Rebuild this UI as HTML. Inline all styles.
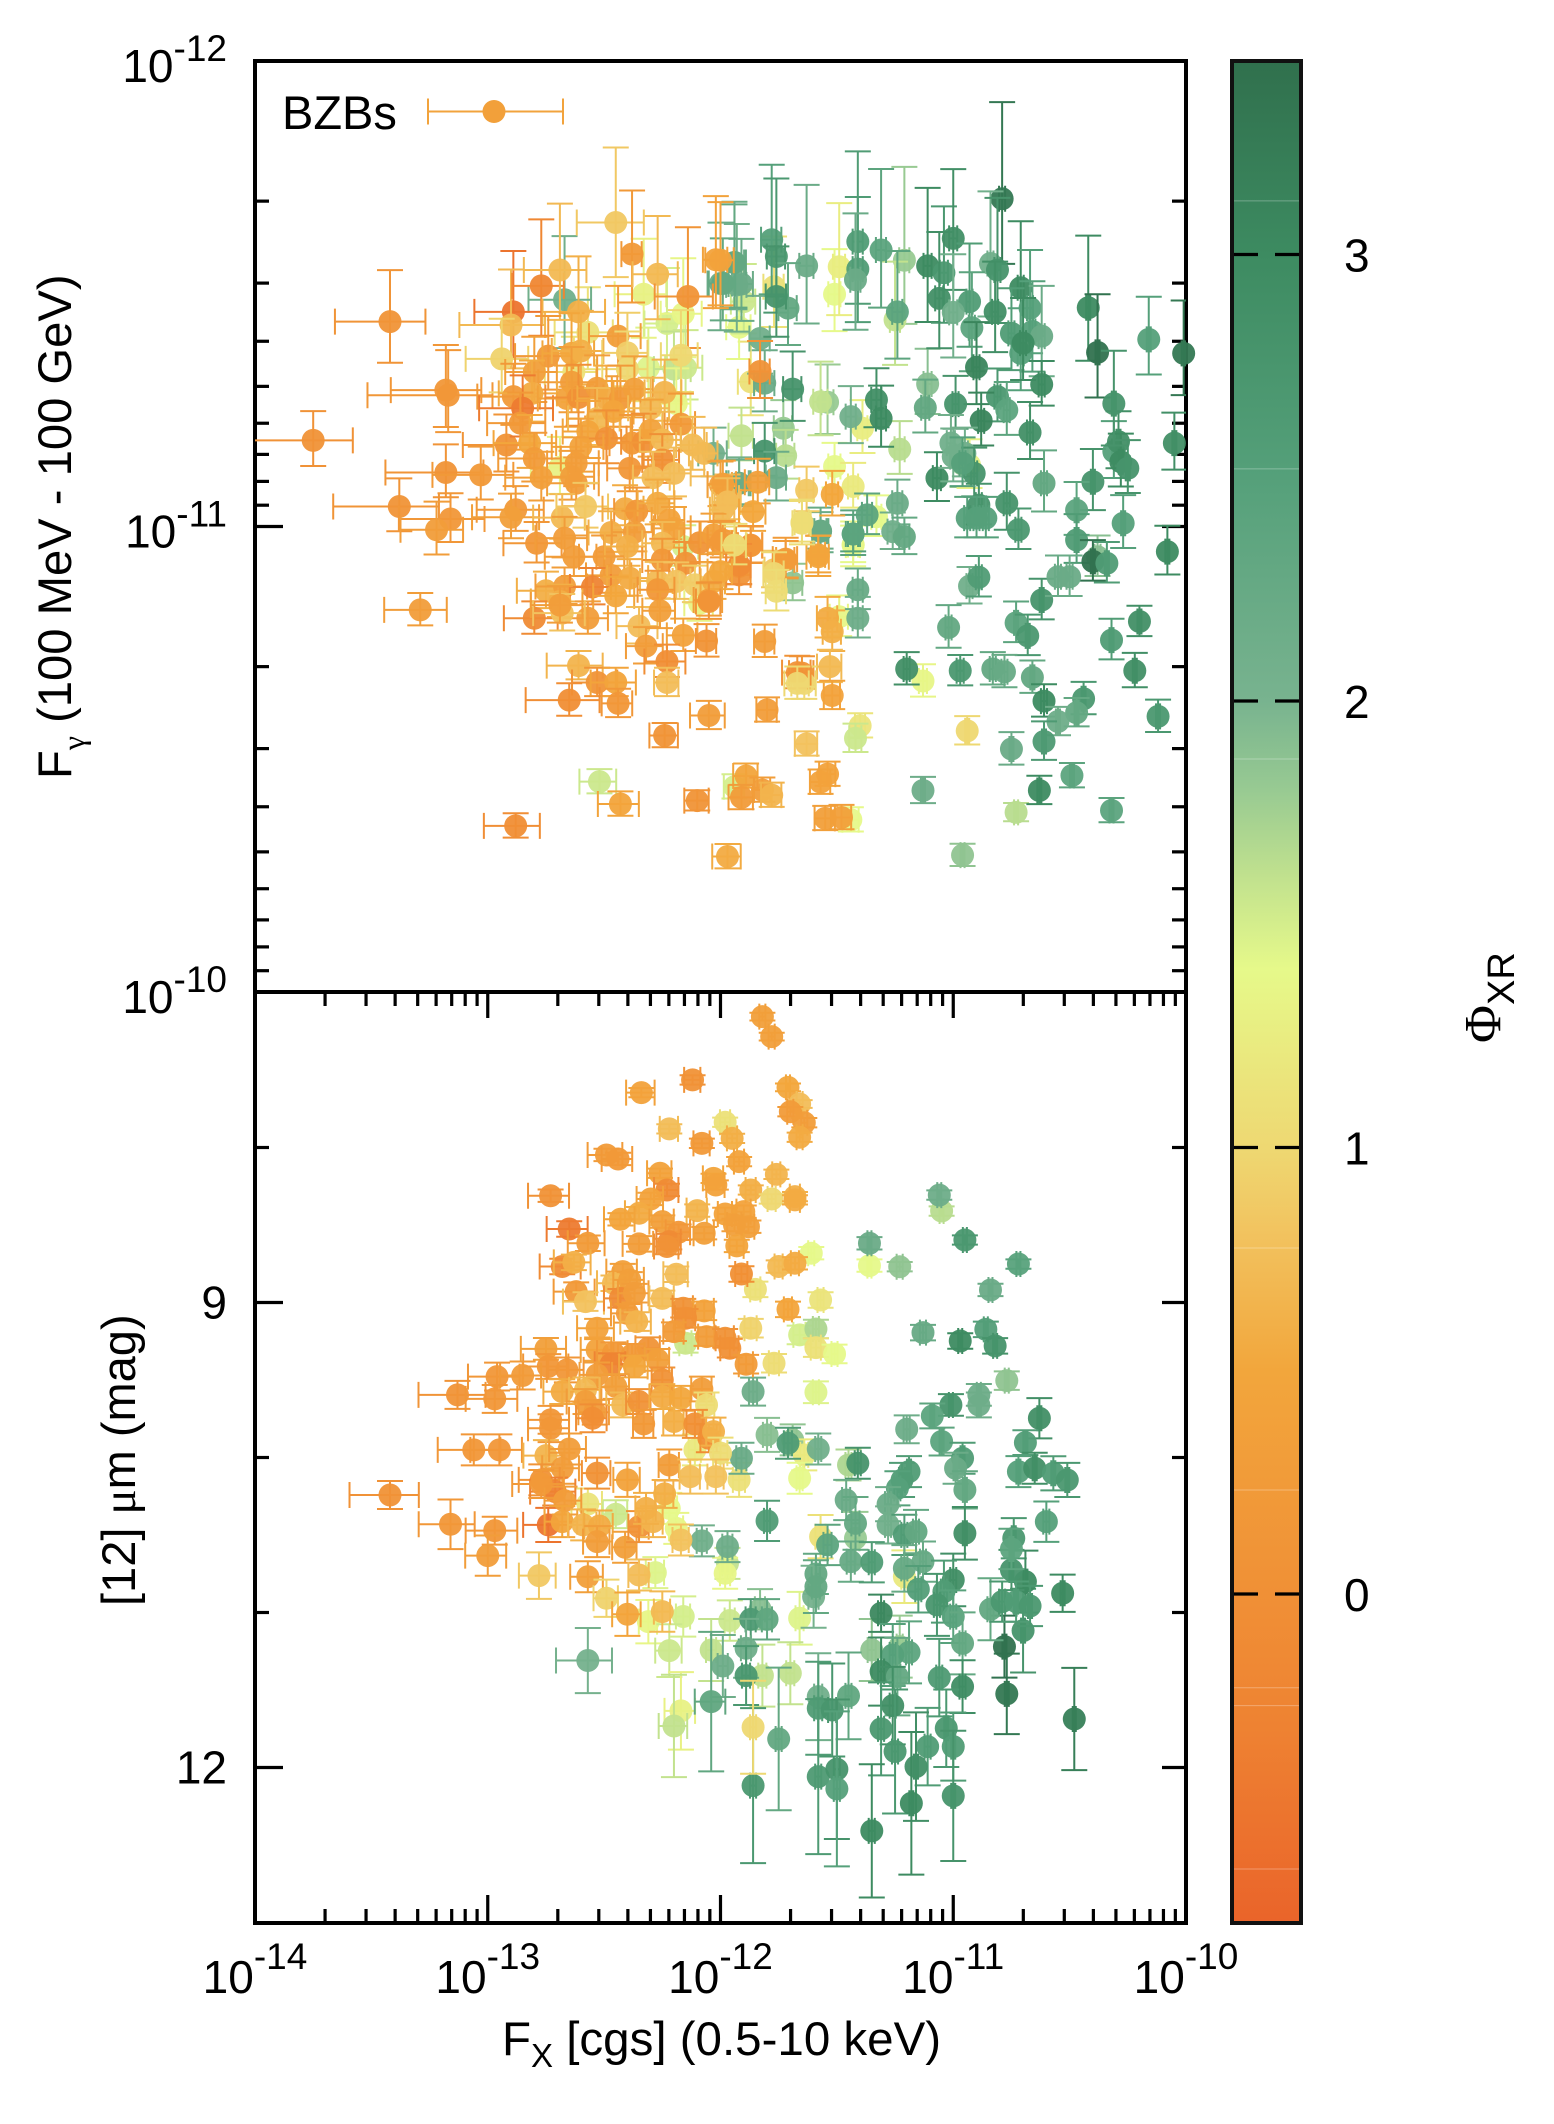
<!DOCTYPE html>
<html lang="en">
<head>
<meta charset="utf-8">
<title>BZBs: gamma-ray flux and 12 micron magnitude versus X-ray flux</title>
<style>
html,body{margin:0;padding:0;background:#fff;}
svg{display:block;}
text{font-family:"Liberation Sans",sans-serif;fill:#000;}
.sym{font-family:"Liberation Serif",serif;}
</style>
</head>
<body>
<svg id="chart" xmlns="http://www.w3.org/2000/svg" width="1554" height="2124" viewBox="0 0 1554 2124">
  <defs>
    <linearGradient id="cbGrad" x1="0" y1="1" x2="0" y2="0"></linearGradient>
    <clipPath id="clipTop"><rect x="255" y="61" width="931" height="931"/></clipPath>
    <clipPath id="clipLow"><rect x="255" y="992" width="931" height="931"/></clipPath>
  </defs>
  <rect width="1554" height="2124" fill="#fff"/>
  <g id="axes"></g>
  <g id="topMarks"></g>
  <g id="lowMarks"></g>
  <g id="colorbar"></g>
  <g>
    <text x="282" y="129" font-size="47">BZBs</text>
    <path d="M428 111.5H563M428 98.5V124.5M563 98.5V124.5" stroke="#f2a33c" stroke-width="2" fill="none"/>
    <circle cx="494" cy="111.5" r="11.5" fill="#f2a03a"/>
  </g>
  <text transform="translate(71 779) rotate(-90)" font-size="47.2">F<tspan class="sym" font-size="32" dy="13">γ</tspan><tspan dy="-13"> (100 MeV - 100 GeV)</tspan></text>
  <text transform="translate(135 1606) rotate(-90)" font-size="47">[12] <tspan class="sym">μ</tspan>m (mag)</text>
  <text x="502" y="2055" font-size="47.5">F<tspan font-size="33" dy="12">X</tspan><tspan dy="-12"> [cgs] (0.5-10 keV)</tspan></text>
  <text transform="translate(1500 1043) rotate(-90)" font-size="52"><tspan class="sym">Φ</tspan><tspan font-size="38" dy="14">XR</tspan></text>
</svg>
<script>
// ---------- Axis tick values ----------
const xDecades = [-14, -13, -12, -11, -10];
const xTickExponents = ['-14', '-13', '-12', '-11', '-10'];
const topDecades = [-12, -11, -10];
const topTickExponents = ['-12', '-11', '-10'];
const minorMultipliers = [2, 3, 4, 5, 6, 7, 8, 9];
const magMajorTicks = [9, 12];
const magMajorLabels = ['9', '12'];
const magMinorTicks = [8, 10, 11];
const colorbarTicks = [0, 1, 2, 3];
const colorbarTickLabels = ['0', '1', '2', '3'];
const colorbarBandEdges = [3.12, 2.52, 1.87, 0.775, 0.233, -0.21, -0.25, -0.616];

// ---------- Colour map ----------
const colormapPhi = [-0.737, -0.3, 0, 0.5, 0.8, 1, 1.4, 1.6, 1.8, 2, 2.5, 3, 3.434];
const colormapHex = ['#ea642a', '#ee8232', '#f09036', '#f2a63c', '#f2c25e', '#eed872', '#e6f98a', '#c2e28e', '#98ca92', '#78b38f', '#55a07a', '#3d8b61', '#30704d'];

// ---------- Upper panel: log10 Fx, log10 F_gamma, Phi_XR, relative errors ----------
const topLogFx = [
-13.75,-13.42,-13.18,-13.17,-13.18,-13.03,-13.38,-13.16,-13.22,-12.92,
-12.89,-12.90,-12.77,-12.69,-12.67,-12.45,-12.38,-12.27,-12.14,-12.33,
-12.61,-12.57,-12.44,-12.23,-12.16,-12.94,-12.74,-12.64,-12.60,-12.40,
-12.40,-12.31,-12.20,-12.15,-12.17,-12.80,-12.64,-12.63,-12.89,-12.81,
-12.85,-12.86,-12.66,-12.61,-12.53,-12.49,-12.43,-12.37,-12.24,-12.19,
-12.53,-12.46,-12.30,-12.17,-12.82,-12.57,-12.49,-12.60,-12.38,-12.33,
-12.30,-12.25,-12.12,-12.07,-12.03,-12.80,-12.62,-12.69,-12.64,-12.62,
-12.77,-12.39,-12.25,-12.20,-12.29,-12.00,-11.92,-11.97,-11.99,-12.88,
-12.90,-12.68,-12.58,-12.41,-12.36,-12.27,-12.22,-12.20,-12.79,-12.67,
-12.63,-12.47,-12.37,-12.50,-12.40,-12.25,-12.25,-12.15,-12.16,-12.09,
-12.03,-12.47,-12.39,-12.27,-12.19,-12.11,-12.03,-12.75,-12.67,-12.55,
-12.45,-12.69,-12.27,-13.29,-12.05,-12.02,-11.94,-12.00,-11.93,
-10.79,-11.78,-11.76,-11.63,-11.41,-11.31,-11.41,-11.42,-11.21,-11.11,
-11.04,-11.00,-10.84,-10.81,-10.71,-11.06,-10.93,-11.00,-10.92,-10.82,
-11.24,-11.25,-10.67,-10.75,-10.66,-10.62,-10.71,-10.70,-10.42,-10.38,
-10.16,-10.01,-10.90,-10.62,-10.81,-10.77,-10.88,-10.99,-11.11,-11.12,
-11.33,-11.31,-11.54,-11.57,-11.44,-11.39,-11.69,-11.81,-11.83,-11.87,
-11.83,-11.92,-11.71,-11.76,-11.77,-11.51,-11.49,-11.90,-11.91,-11.99,
-11.94,-12.00,-11.91,-11.73,-11.81,-11.72,-11.23,-11.51,-11.43,-11.63,
-11.52,-11.76,-11.84,-11.92,-11.99,-11.97,-11.86,-11.65,-11.57,-11.43,
-11.33,-11.24,-11.37,-11.26,-11.21,-11.07,-11.01,-10.95,-10.96,-10.93,
-11.00,-10.91,-10.96,-10.67,-10.77,-10.61,-10.40,-10.47,-10.47,-10.27,
-10.31,-10.29,-10.28,-10.25,-10.31,-10.05,-10.08,-10.72,-10.94,-10.89,
-10.86,-10.90,-10.40,-10.38,-10.34,-11.72,-11.58,-11.87,-11.94,-11.99,
-11.92,-11.77,-11.43,
-10.93,-10.89,-10.62,-10.55,-10.50,-11.41,-11.41,-11.54,-11.49,-11.52,
-11.02,-10.73,-10.68,-10.32,-10.20,-10.22,-11.53,-11.65,-11.64,-11.52,
-11.20,-11.13,-10.97,-10.83,-10.78,-10.66,-10.61,-10.44,-10.47,-10.55,
-10.61,-10.12,-11.40,-11.42,-10.94,-10.75,-11.63,-11.54,-11.57,-10.49,
-10.63,-11.13,-10.73,-10.32,-11.55,-11.48,-11.44,-10.96,
-11.87,-11.72,-11.77,-11.76,-11.69,-11.58,-11.57,-11.43,-11.43,-11.65,
-11.92,-11.92,-11.81,-11.67,-11.67,-12.57,-12.80,-12.68,-12.35,-12.32,
-12.16,-12.06,-12.26,-12.61,-12.53,-12.45,-12.23,-12.23,-12.65,-12.44,
-12.05,-12.24,-11.80,-11.89,-12.52,-12.43,-12.10,-11.91,-11.82,-11.78,
-11.94,-12.88,-11.97,-12.00,-11.94,-12.00,-12.05,-12.09,-12.69
];
const topLogFgamma = [
-11.185,-11.440,-11.293,-11.282,-11.116,-11.111,-11.043,-11.016,-10.993,-11.175,
-11.461,-11.433,-11.517,-11.551,-11.487,-11.653,-11.585,-11.542,-11.494,-11.499,
-11.461,-11.417,-11.409,-11.436,-11.457,-11.360,-11.366,-11.372,-11.377,-11.373,
-11.338,-11.341,-11.338,-11.341,-11.368,-11.332,-11.310,-11.332,-11.279,-11.286,
-11.254,-11.222,-11.275,-11.277,-11.297,-11.275,-11.275,-11.295,-11.288,-11.264,
-11.232,-11.247,-11.254,-11.220,-11.179,-11.204,-11.189,-11.171,-11.179,-11.182,
-11.207,-11.186,-11.175,-11.157,-11.157,-11.146,-11.136,-11.127,-11.107,-11.093,
-11.105,-11.125,-11.143,-11.114,-11.105,-11.089,-11.093,-11.061,-11.036,-11.036,
-11.020,-11.019,-11.043,-11.038,-11.033,-11.050,-11.014,-10.996,-10.964,-10.975,
-10.935,-10.987,-10.988,-10.935,-10.957,-10.964,-10.928,-10.921,-10.957,-10.965,
-10.982,-10.895,-10.889,-10.883,-10.882,-10.875,-10.882,-10.862,-10.871,-10.870,
-10.851,-10.839,-10.864,-10.821,-10.842,-11.573,-11.567,-11.522,-11.519,
-11.704,-11.616,-11.580,-11.560,-11.612,-11.594,-11.553,-11.530,-11.572,-11.560,
-11.545,-11.619,-11.565,-11.551,-11.513,-11.490,-11.483,-11.460,-11.427,-11.461,
-11.461,-11.444,-11.469,-11.415,-11.419,-11.409,-11.372,-11.394,-11.470,-11.374,
-11.402,-11.372,-11.342,-11.305,-11.279,-11.250,-11.227,-11.263,-11.306,-11.255,
-11.272,-11.232,-11.267,-11.268,-11.236,-11.211,-11.295,-11.308,-11.333,-11.311,
-11.404,-11.428,-11.469,-11.494,-11.515,-11.499,-11.558,-11.483,-11.521,-11.522,
-11.567,-11.572,-11.195,-11.211,-11.162,-11.152,-11.166,-11.129,-11.086,-11.078,
-11.069,-11.105,-11.095,-11.093,-11.091,-11.053,-11.032,-11.009,-10.990,-10.984,
-11.021,-11.050,-11.025,-10.989,-10.978,-11.104,-11.179,-11.157,-11.134,-11.132,
-11.150,-11.114,-11.136,-11.202,-11.050,-11.093,-11.096,-11.035,-10.971,-11.007,
-11.161,-11.182,-11.139,-11.125,-11.264,-11.179,-10.946,-10.993,-11.018,-11.046,
-11.018,-11.018,-10.925,-10.935,-10.921,-10.928,-10.939,-10.959,-10.959,-10.971,
-10.914,-10.907,-10.961,
-10.872,-10.891,-10.842,-10.892,-10.892,-10.864,-10.803,-10.803,-10.806,-10.774,
-10.783,-10.793,-10.765,-10.756,-10.796,-10.690,-10.699,-10.685,-10.663,-10.637,
-10.694,-10.668,-10.690,-10.694,-10.688,-10.676,-10.625,-10.630,-10.600,-10.581,
-10.538,-10.592,-10.572,-10.545,-10.561,-10.522,-10.533,-10.468,-10.451,-10.465,
-10.433,-10.433,-10.386,-10.390,-10.373,-10.375,-10.370,-10.294,
-10.960,-10.930,-10.899,-10.861,-10.879,-10.935,-10.990,-10.984,-10.960,-11.007,
-10.896,-10.917,-10.753,-10.686,-10.663,-10.803,-10.803,-10.814,-10.786,-10.743,
-10.766,-10.754,-10.819,-10.701,-10.665,-10.665,-10.710,-10.665,-10.627,-10.620,
-10.594,-10.551,-10.606,-10.464,-10.452,-10.404,-10.411,-10.418,-10.434,-10.423,
-10.441,-10.357,-10.291,-10.964,-10.960,-10.903,-10.839,-10.835,-10.831
];
const topPhi = [
.05,.1,.15,.15,.1,.2,.1,.15,.3,.1,
-.5,.7,-.2,.7,2.1,.85,.2,.7,.1,1.3,
.6,1.1,.3,1.5,1.35,.95,.2,.5,.6,.9,
1,1.45,1.6,1.55,1,.35,.3,1.1,.2,.55,
-.4,.2,.4,0,.3,.55,.2,.35,.65,1.35,
.7,.45,.7,.2,.5,.45,0,.4,.2,0,
.4,.7,.7,.7,2.1,.25,.3,1.3,.3,.3,
.35,.15,0,.75,.75,.35,2.1,.75,.7,.2,
.35,.7,.85,.55,.15,.55,.4,.4,.15,.3,
.3,.6,.3,.25,.6,.7,.15,.05,1.5,.1,
.35,.3,.55,.7,.8,.9,.55,.6,.3,-.25,
.5,.6,.15,.3,.3,.4,2.2,2.2,2.1,
3.3,2.5,2.7,2.2,2.6,2.4,2.6,2.2,1.8,3,
2.7,2.9,2.1,2.8,3,2.9,2.6,2.1,2.4,2.9,
2.4,1.6,2.5,2.6,2.5,2.2,2.5,3,3,3.4,
2.5,3.3,3.1,3,2.7,2.4,3.1,2.8,1.9,2.3,
2.9,3,1.8,1.6,2.1,1.25,2.8,2.2,.05,1.1,
2.1,1.4,2.3,2.8,1.1,1.4,1.25,1.55,2.2,2.3,
2.3,.4,1.6,1.8,2.8,1.65,1.65,1.4,1.2,.85,
.5,2.2,.35,2.2,.35,.75,.5,1.05,2.2,2.5,
1.4,2.2,2.4,2.1,2.3,3,2.1,2.1,1.8,1.3,
2.1,2.8,2.5,2.9,2.8,2.3,2.8,2.4,2.6,2.5,
2.5,2.9,3,2.8,2.8,2.9,3,2.7,2.5,2.8,
2.5,2.5,3.4,1.9,2.6,.3,.45,.2,1,.2,
-.1,.85,1.4,
2.1,2.6,2.8,2.2,2.2,2.25,2.15,.55,1.35,.6,
2.3,2.4,2.7,2.6,2.9,2.9,.7,.1,1,.4,
2.9,1.35,2.7,2.3,2.25,2.3,3,2.7,2.3,2.15,
2.65,2.7,1.15,1.55,1,2.2,.8,.4,.4,2.4,
3,2.15,1.65,2.4,.35,.35,1.4,1.85,
.15,.25,1,1.05,1.85,.45,2.25,2.4,1.35,1.05,
.1,-.1,.3,.05,1,.3,-.1,.8,.75,.3,
.4,.1,.35,.65,.1,.45,-.05,.75,-.05,.15,
.3,.1,.3,.45,1.55,.45,.1,.25,.3,.65,
1.5,-.05,.55,.2,1.05,.5,.1,1.3,.3
];
const topFxErr = [
.48,.42,.42,.55,.45,.38,.48,.40,.30,.35,
.32,.40,.25,.30,.30,.32,.10,.22,.28,.25,
.30,.28,.25,.20,.20,.30,.28,.25,.25,.22,
.22,.18,.18,.18,.18,.25,.28,.25,.30,.28,
.35,.28,.25,.28,.22,.25,.22,.20,.18,.15,
.25,.22,.20,.15,.30,.22,.22,.25,.20,.20,
.18,.20,.15,.14,.14,.30,.25,.25,.25,.25,
.30,.20,.18,.18,.18,.12,.10,.12,.12,.32,
.32,.25,.25,.20,.20,.18,.16,.18,.28,.25,
.25,.20,.20,.22,.20,.18,.18,.15,.16,.14,
.12,.22,.20,.16,.15,.14,.12,.25,.25,.20,
.20,.25,.18,.30,.14,.12,.10,.12,.10,
.03,.10,.09,.07,.05,.05,.05,.05,.05,.04,
.04,.04,.03,.03,.03,.04,.03,.04,.03,.03,
.05,.05,.03,.03,.03,.03,.03,.03,.02,.02,
.02,.02,.03,.03,.03,.03,.03,.03,.04,.04,
.05,.05,.06,.07,.05,.05,.09,.10,.10,.12,
.10,.12,.09,.10,.10,.06,.06,.12,.12,.13,
.12,.14,.12,.09,.10,.09,.05,.06,.05,.07,
.06,.10,.12,.12,.14,.14,.13,.07,.06,.05,
.05,.05,.05,.05,.05,.04,.04,.03,.03,.03,
.03,.03,.03,.03,.03,.03,.02,.02,.02,.02,
.02,.02,.02,.02,.02,.02,.02,.03,.03,.03,
.03,.03,.02,.03,.02,.09,.07,.12,.13,.14,
.12,.09,.05,
.03,.03,.02,.03,.03,.05,.05,.10,.09,.09,
.03,.02,.02,.02,.02,.02,.12,.12,.12,.08,
.03,.04,.035,.03,.03,.02,.03,.02,.02,.02,
.02,.02,.05,.06,.02,.02,.11,.08,.10,.02,
.02,.02,.02,.02,.10,.10,.08,.02,
.12,.12,.10,.10,.10,.11,.08,.07,.07,.09,
.12,.12,.10,.14,.12,.22,.26,.25,.20,.18,
.15,.10,.16,.27,.22,.22,.20,.12,.35,.15,
.17,.14,.10,.12,.18,.20,.12,.12,.08,.10,
.10,.27,.14,.12,.12,.12,.12,.14,.25
];
const topFgammaErr = [
.135,.225,.20,.20,.13,.13,.13,.12,.13,.14,
.26,.24,.28,.28,.27,.31,.27,.25,.29,.24,
.24,.20,.22,.24,.24,.18,.18,.18,.18,.18,
.17,.18,.17,.17,.20,.16,.16,.16,.15,.15,
.15,.14,.15,.15,.15,.15,.15,.15,.15,.16,
.14,.14,.14,.14,.13,.14,.13,.13,.13,.13,
.14,.13,.13,.12,.12,.12,.12,.14,.12,.12,
.12,.12,.12,.12,.12,.11,.12,.11,.11,.11,
.11,.11,.11,.11,.11,.11,.10,.10,.10,.10,
.10,.10,.10,.10,.10,.10,.10,.10,.10,.10,
.10,.09,.09,.09,.09,.09,.09,.09,.09,.09,
.09,.08,.09,.08,.08,.27,.26,.26,.26,
.38,.31,.32,.33,.36,.33,.30,.28,.37,.32,
.28,.29,.30,.30,.28,.28,.25,.25,.24,.22,
.26,.25,.25,.20,.22,.22,.20,.20,.30,.25,
.19,.23,.20,.11,.13,.13,.13,.13,.16,.13,
.145,.15,.17,.18,.14,.13,.17,.15,.14,.18,
.19,.17,.20,.22,.22,.20,.27,.17,.20,.20,
.25,.25,.13,.13,.13,.12,.13,.11,.11,.11,
.11,.12,.11,.11,.11,.11,.10,.10,.09,.09,
.10,.11,.10,.09,.09,.12,.13,.12,.12,.12,
.13,.12,.12,.14,.14,.15,.15,.13,.12,.13,
.14,.14,.13,.13,.23,.14,.12,.10,.10,.10,
.10,.10,.10,.10,.10,.09,.09,.09,.09,.09,
.09,.09,.09,
.09,.10,.10,.10,.10,.10,.10,.10,.10,.10,
.105,.10,.10,.10,.075,.085,.08,.08,.08,.07,
.08,.08,.075,.08,.08,.08,.08,.08,.07,.07,
.095,.08,.06,.07,.07,.08,.06,.06,.06,.06,
.07,.065,.045,.06,.06,.06,.06,.055,
.09,.10,.10,.10,.09,.10,.11,.11,.11,.11,
.10,.10,.08,.08,.08,.08,.08,.09,.09,.09,
.08,.08,.09,.07,.07,.07,.08,.07,.08,.07,
.07,.06,.06,.06,.06,.06,.05,.06,.06,.06,
.06,.06,.06,.10,.10,.09,.09,.09,.09
];

// ---------- Lower panel: log10 Fx, [12] micron magnitude, Phi_XR, errors ----------
const lowLogFx = [
-11.82,-11.78,-12.12,-12.34,-11.71,-11.66,-11.70,-11.64,-11.66,-11.98,
-11.95,-12.22,-12.08,-11.92,-12.49,-12.44,-12.73,-12.26,-12.23,-12.30,
-12.03,-12.02,-11.76,-11.87,-11.78,-11.68,-11.68,-12.35,-12.43,-12.25,
-12.10,-11.98,-11.90,-11.94,-11.88,-11.93,-12.65,-12.57,-12.35,-12.07,
-12.18,-12.22,-12.23,-11.61,-11.36,-11.36,-12.68,-12.63,-12.42,-12.46,
-12.39,-12.19,-11.91,-11.75,-11.68,-11.85,-12.62,-12.58,-12.43,-12.37,
-12.25,-11.57,-12.16,-12.07,-12.15,-11.71,-12.40,-12.36,-12.53,-11.87,
-11.66,-11.59,-11.59,-11.51,-12.15,-12.20,-12.06,-11.98,-11.96,-11.89,
-11.77,-11.86,-11.59,-12.75,-12.53,-12.31,-12.38,-12.27,-12.46,-12.47,
-12.74,-12.66,-12.37,-12.53,-12.45,-12.25,-12.96,-12.85,-13.13,-12.97,
-12.68,-12.58,-12.58,-12.54,-12.42,-12.35,-12.25,-12.17,-12.08,-12.06,
-12.73,-12.73,-12.55,-12.33,-12.20,-12.11,-12.05,-12.03,-13.06,-12.95,
-12.75,-12.65,-12.68,-12.53,-12.22,-12.11,-12.00,-11.91,-11.80,-11.71,
-11.69,-11.64,-11.58,-11.45,-11.41,-11.66,-12.13,-12.02,-11.92,-12.77,
-12.40,
-13.42,-13.16,-12.97,-13.00,-12.74,-12.71,-12.77,-12.67,-12.68,-12.59,
-12.52,-12.57,-12.45,-12.53,-12.41,-12.35,-12.29,-12.32,-12.24,-12.19,
-12.17,-12.22,-12.08,-11.97,-11.97,-11.98,-11.80,-12.78,-12.57,-12.35,
-12.28,-12.49,-12.40,-12.31,-12.25,-12.16,-11.96,-11.87,-11.83,-11.80,
-11.66,-12.22,-12.04,-11.89,-11.99,-11.89,-11.82,-11.70,-12.57,-12.04,
-12.17,-12.20,-11.86,-11.75,-11.86,
-11.06,-11.05,-10.95,-10.72,-11.23,-10.84,-11.13,-10.97,-10.86,-10.82,
-10.77,-10.89,-10.89,-11.01,-11.09,-11.20,-11.05,-10.96,-10.99,-11.19,
-11.22,-11.24,-10.95,-11.28,-11.28,-11.21,-11.16,-10.63,-10.69,-10.72,
-10.65,-10.57,-10.51,-10.60,-10.74,-10.95,-11.46,-11.42,-11.57,-11.42,
-11.59,-11.60,-11.59,-11.44,-11.35,-11.54,-11.21,-11.21,-11.13,-11.15,
-11.00,-11.04,-11.07,-11.00,-10.96,-11.31,-11.35,-11.23,-11.19,-11.26,
-11.31,-11.24,-11.06,-10.96,-11.58,-11.58,-11.52,-11.45,-11.26,-11.31,
-11.25,-11.03,-11.11,-11.00,-11.16,-11.58,-11.50,-11.50,-11.00,-11.18,
-11.35,-10.77,-10.78,-10.48,-10.53,-10.70,-10.69,-10.75,-10.84,-10.79,
-10.73,-10.67,-10.75
];
const lowMag = [
7.156,7.285,7.564,7.646,7.612,7.719,7.769,7.840,7.934,7.837,
7.941,7.880,7.973,8.091,8.048,8.074,8.311,8.166,8.274,8.332,
8.199,8.242,8.173,8.274,8.332,8.317,8.338,8.424,8.463,8.478,
8.407,8.429,8.414,8.500,8.511,8.635,8.526,8.618,8.622,8.553,
8.547,8.607,8.639,8.682,8.618,8.762,8.768,8.741,8.801,8.876,
8.854,8.818,8.816,8.768,8.747,8.915,8.930,8.994,8.973,8.940,
8.973,8.984,9.037,9.054,9.102,9.044,9.070,9.123,9.166,9.166,
9.209,9.171,9.291,9.332,9.263,9.188,9.220,9.231,9.295,9.398,
9.392,9.575,9.579,9.299,9.306,9.295,9.338,9.370,9.327,9.398,
9.413,9.435,9.413,9.467,9.542,9.499,9.478,9.471,9.596,9.622,
9.575,9.564,9.639,9.708,9.661,9.639,9.607,9.618,9.558,9.661,
9.757,9.811,9.747,9.783,9.768,9.783,9.876,9.833,9.951,9.951,
9.988,9.945,10.069,10.101,10.048,9.951,9.972,10.005,9.854,9.908,
9.886,9.983,9.945,10.048,10.037,10.134,10.123,10.123,10.144,10.144,
10.144,
10.242,10.431,10.472,10.633,10.435,10.220,10.171,10.278,10.414,10.435,
10.442,10.300,10.366,10.543,10.579,10.446,10.414,10.328,10.235,10.457,
10.532,10.328,10.538,10.575,10.683,10.747,10.409,10.762,10.769,10.758,
10.743,10.908,11.011,11.059,10.994,11.026,11.052,11.044,10.979,11.044,
11.037,11.246,11.242,11.231,11.345,11.407,11.407,11.392,11.310,11.575,
11.635,11.732,11.740,11.816,12.117,
8.307,8.410,8.597,8.752,8.769,8.919,9.194,9.248,9.173,9.280,
9.504,9.596,9.661,9.661,9.732,9.818,9.897,10.005,10.069,10.091,
10.145,10.199,10.209,10.301,10.435,10.499,10.478,9.747,9.904,10.091,
10.069,10.102,10.145,10.414,10.521,10.489,10.274,10.425,10.511,10.521,
10.751,10.898,10.833,10.672,10.676,10.564,10.715,10.769,10.672,10.850,
10.790,10.865,10.951,11.027,11.199,11.005,11.242,11.220,11.257,11.274,
11.381,11.414,11.420,11.478,11.543,11.618,11.629,11.538,11.601,11.751,
11.897,11.747,11.865,11.865,11.994,12.059,12.011,12.138,12.183,12.231,
12.409,11.525,11.220,11.687,10.876,11.117,10.801,10.726,10.979,10.930,
10.930,10.958,10.590
];
const lowPhi = [
.35,.35,.05,.4,.5,.75,.25,.3,.55,1.1,
.6,.75,.2,.4,.25,.2,.05,.4,-.1,.4,
.45,.4,.65,.6,1,.6,.55,.55,.45,.35,
.65,.4,.4,.35,.35,.45,-.4,.25,.3,.35,
.15,-.1,.05,1.4,2.2,1.4,-.1,.6,.35,.7,
.35,.75,0,.7,.55,1.1,.2,.8,-.1,.3,
.75,1.15,.05,.4,0,.45,.25,.65,.4,.95,
1.5,1.7,1.1,1.4,1.55,.25,.3,.05,0,.25,
1.05,2.15,1.45,.35,.4,.1,.2,.35,.2,-.25,
.15,.15,.5,.3,.35,.05,.15,.25,.1,.15,
.55,.7,.3,.25,.7,.05,.55,.5,.3,1.05,
.15,.15,-.05,.2,.6,0,-.05,.6,.15,.15,
.65,.3,.3,.05,.3,1.2,1.05,2.2,1.9,2.6,
1.85,1.2,2.1,1.7,2.8,1.4,.75,.8,1.1,.1,
.4,
.05,.15,.15,.3,-.5,-.3,.2,.3,.45,.65,
.55,1.15,1.55,.3,.35,.05,.65,.6,.6,1.35,
.8,1.4,2.1,2.15,1.6,1.35,2.6,.85,.35,.75,
1.45,.95,.45,1.35,.7,1.5,1.55,2.65,1.9,2.35,
1.45,1.55,1.6,2.15,2.15,2.7,1.6,1.6,2.05,2.35,
1.3,1.6,1,2.3,2.7,
2.15,1.65,2.7,2.45,1.85,2.2,2.25,3,2.55,2.8,
1.85,2.15,2.15,2.8,2.4,2.15,2.4,2.6,2.2,2.6,
2.6,2.5,2.3,2.2,2.1,2.6,2.3,2.9,2.55,2.5,
2.9,2.6,2.7,2.5,2.7,2.9,2.2,2.3,1.1,1.8,
2.3,2.05,2.3,2.25,2.6,2.4,2.25,1.2,2.25,2.55,
2.9,2.6,2.75,2.45,2.3,3.05,1.85,1.8,2.4,2.5,
3,2.3,2.65,2.95,2.1,2.6,2.75,2.35,2.9,2.7,
2.7,2.7,2.6,2.6,2.9,2.65,2.8,2.5,2.8,3,
3,3.3,3.4,3.2,3,2.8,3,2.8,2.3,2.7,
2.6,2.7,2.4
];
const lowFxErr = [
.03,.03,.08,.14,.02,.03,.03,.03,.03,.05,
.05,.09,.08,.05,.17,.15,.20,.12,.12,.13,
.10,.09,.04,.05,.04,.05,.05,.13,.15,.12,
.10,.07,.07,.07,.06,.07,.20,.18,.15,.10,
.12,.12,.12,.03,.02,.02,.20,.18,.15,.15,
.15,.12,.06,.04,.04,.05,.20,.20,.15,.15,
.12,.03,.10,.10,.10,.04,.15,.15,.18,.06,
.06,.03,.05,.03,.06,.10,.08,.09,.09,.07,
.05,.04,.03,.22,.15,.12,.13,.12,.15,.15,
.22,.18,.14,.16,.14,.10,.25,.20,.32,.25,
.17,.15,.17,.15,.15,.12,.12,.10,.10,.08,
.20,.20,.15,.10,.10,.08,.08,.07,.30,.25,
.20,.18,.18,.14,.10,.06,.07,.05,.04,.04,
.04,.04,.03,.03,.03,.03,.10,.08,.06,.20,
.13,
.33,.27,.25,.20,.22,.22,.25,.18,.16,.14,
.14,.15,.12,.13,.12,.10,.10,.10,.09,.07,
.08,.08,.05,.05,.05,.05,.03,.18,.16,.10,
.09,.12,.14,.09,.08,.07,.05,.05,.05,.05,
.04,.13,.05,.05,.05,.04,.04,.04,.27,.15,
.15,.14,.03,.03,.03,
.02,.02,.02,.02,.03,.02,.03,.02,.02,.02,
.02,.02,.02,.02,.02,.03,.02,.02,.02,.02,
.03,.03,.02,.03,.03,.03,.03,.02,.02,.02,
.02,.02,.02,.03,.02,.02,.04,.04,.05,.04,
.04,.05,.04,.04,.03,.04,.03,.03,.03,.03,
.03,.03,.03,.03,.03,.03,.04,.03,.03,.03,
.03,.03,.03,.03,.04,.04,.04,.03,.03,.03,
.03,.02,.03,.02,.02,.03,.03,.03,.02,.02,
.03,.02,.02,.015,.02,.02,.02,.02,.03,.03,
.02,.02,.02
];
const lowMagErr = [
.025,.025,.03,.03,.025,.025,.03,.03,.03,.03,
.03,.03,.03,.03,.04,.04,.04,.03,.04,.04,
.03,.03,.03,.03,.03,.03,.03,.04,.04,.04,
.04,.04,.04,.04,.04,.04,.05,.05,.05,.04,
.05,.05,.05,.04,.04,.04,.05,.05,.05,.05,
.05,.05,.05,.04,.04,.05,.06,.06,.06,.06,
.05,.05,.06,.06,.06,.05,.06,.06,.06,.06,
.06,.06,.06,.06,.06,.06,.06,.06,.06,.06,
.06,.09,.07,.07,.07,.07,.07,.07,.07,.07,
.08,.08,.07,.08,.08,.08,.09,.09,.09,.09,
.08,.08,.08,.08,.08,.08,.08,.08,.08,.08,
.09,.09,.09,.09,.09,.09,.09,.09,.10,.10,
.10,.10,.10,.10,.10,.10,.10,.10,.11,.10,
.10,.10,.10,.10,.10,.10,.11,.11,.11,.10,
.11,
.09,.16,.09,.13,.11,.09,.09,.09,.10,.10,
.10,.10,.09,.10,.10,.10,.10,.10,.09,.10,
.10,.10,.10,.10,.10,.10,.13,.15,.10,.10,
.10,.12,.14,.14,.13,.13,.13,.13,.13,.13,
.17,.17,.20,.19,.20,.19,.20,.20,.21,.45,
.25,.33,.30,.46,.50,
.03,.03,.03,.03,.03,.04,.05,.05,.05,.05,
.06,.07,.08,.07,.08,.09,.09,.10,.10,.10,
.11,.11,.12,.11,.12,.13,.14,.13,.08,.10,
.10,.11,.11,.13,.13,.17,.13,.17,.14,.17,
.13,.20,.17,.13,.13,.13,.15,.17,.13,.15,
.17,.20,.20,.17,.20,.12,.20,.20,.20,.20,
.22,.25,.25,.17,.28,.30,.30,.28,.25,.30,
.40,.25,.25,.22,.35,.50,.45,.50,.42,.46,
.43,.26,.20,.33,.12,.27,.20,.13,.20,.13,
.13,.13,.13
];

// ---------- Axis functions ----------
function xScale(logFx) { return 255 + (logFx + 14) * 232.75; }
function yTopScale(logF) { return 61 + (logF + 12) * 465.5; }
function yLowScale(mag) { return 992.5 + (mag - 7) * 155; }
function yBarScale(phi) { return 1594 - phi * 446.5; }

const SVG_NS = 'http://www.w3.org/2000/svg';
function make(tag, attrs, parent) {
  const el = document.createElementNS(SVG_NS, tag);
  for (const key in attrs) el.setAttribute(key, attrs[key]);
  parent.appendChild(el);
  return el;
}

function hexToRgb(hex) {
  return [parseInt(hex.slice(1, 3), 16), parseInt(hex.slice(3, 5), 16), parseInt(hex.slice(5, 7), 16)];
}
function phiColor(phi) {
  const n = colormapPhi.length;
  if (phi <= colormapPhi[0]) return colormapHex[0];
  if (phi >= colormapPhi[n - 1]) return colormapHex[n - 1];
  for (let i = 1; i < n; i++) {
    if (phi <= colormapPhi[i]) {
      const t = (phi - colormapPhi[i - 1]) / (colormapPhi[i] - colormapPhi[i - 1]);
      const a = hexToRgb(colormapHex[i - 1]);
      const b = hexToRgb(colormapHex[i]);
      return 'rgb(' + a.map(function (v, k) { return Math.round(v + (b[k] - v) * t); }).join(',') + ')';
    }
  }
  return colormapHex[n - 1];
}

// Paint pale mid-range points first, then greens, then the warm points on top.
function paintRank(phi) {
  if (phi >= 1.1 && phi < 2) return 0;
  if (phi >= 2) return 1;
  return 2;
}
function paintOrder(phiValues) {
  const order = phiValues.map(function (_, i) { return i; });
  order.sort(function (a, b) {
    return (paintRank(phiValues[a]) - paintRank(phiValues[b])) || (a - b);
  });
  return order;
}

// ---------- Axes ----------
const axes = document.getElementById('axes');
const LEFT = 255, RIGHT = 1186, TOP = 61, MID = 992, BOTTOM = 1923;

function hTick(x, y, len, name) {
  const t = make('line', { x1: x, x2: x + len, y1: y, y2: y, stroke: '#000', 'stroke-width': 3.2 }, axes);
  
  
}
function vTick(x, y, len, name) {
  const t = make('line', { x1: x, x2: x, y1: y, y2: y + len, stroke: '#000', 'stroke-width': 3.2 }, axes);
  
  
}
function powerLabel(x, y, anchor, exponent, name, raise) {
  const t = make('text', { x: x, y: y, 'text-anchor': anchor, 'font-size': 46 }, axes);
  
  
  t.appendChild(document.createTextNode('10'));
  const s = make('tspan', { 'font-size': 37, dy: -raise }, t);
  s.textContent = exponent;
}

xDecades.forEach(function (d, i) {
  const px = xScale(d);
  vTick(px, MID, 26, 'x-major-tick-middle');
  vTick(px, BOTTOM - 28, 28, 'x-major-tick-bottom');
  powerLabel(px, 1993, 'middle', xTickExponents[i], 'x-tick-label', 24);
  if (i < xDecades.length - 1) {
    minorMultipliers.forEach(function (m) {
      const mx = xScale(d + Math.log10(m));
      vTick(mx, MID, 14, 'x-minor-tick-middle');
      vTick(mx, BOTTOM - 14, 14, 'x-minor-tick-bottom');
    });
  }
});

topDecades.forEach(function (d, i) {
  const py = yTopScale(d);
  if (i === 1) {
    hTick(LEFT, py, 28, 'y-top-major-tick-left');
    hTick(RIGHT - 24, py, 24, 'y-top-major-tick-right');
  }
  powerLabel(227, py + 21, 'end', topTickExponents[i], 'y-top-tick-label', 21);
  if (i < topDecades.length - 1) {
    minorMultipliers.forEach(function (m) {
      const my = yTopScale(d + Math.log10(m));
      hTick(LEFT, my, 14, 'y-top-minor-tick-left');
      hTick(RIGHT - 14, my, 14, 'y-top-minor-tick-right');
    });
  }
});

magMajorTicks.forEach(function (m, i) {
  const py = yLowScale(m);
  hTick(LEFT, py, 28, 'y-bottom-major-tick-left');
  hTick(RIGHT - 24, py, 24, 'y-bottom-major-tick-right');
  const t = make('text', { x: 227, y: py + 16, 'text-anchor': 'end', 'font-size': 46 }, axes);
  
  
  t.textContent = magMajorLabels[i];
});
magMinorTicks.forEach(function (m) {
  const py = yLowScale(m);
  hTick(LEFT, py, 14, 'y-bottom-minor-tick-left');
  hTick(RIGHT - 14, py, 14, 'y-bottom-minor-tick-right');
});

const frame = make('path', {
  d: 'M' + LEFT + ' ' + TOP + 'H' + RIGHT + 'V' + BOTTOM + 'H' + LEFT + 'ZM' + LEFT + ' ' + MID + 'H' + RIGHT,
  fill: 'none', stroke: '#000', 'stroke-width': 4
}, axes);



// ---------- Points ----------
function drawPoint(layer, px, py, xLo, xHi, yLo, yHi, phi, clipId) {
  const color = phiColor(phi);
  const group = make('g', {}, layer);
  
  
  const cap = 13;
  const d = 'M' + xLo + ' ' + py + 'H' + xHi +
    'M' + xLo + ' ' + (py - cap) + 'V' + (py + cap) +
    'M' + xHi + ' ' + (py - cap) + 'V' + (py + cap) +
    'M' + px + ' ' + yLo + 'V' + yHi +
    'M' + (px - cap) + ' ' + yLo + 'H' + (px + cap) +
    'M' + (px - cap) + ' ' + yHi + 'H' + (px + cap);
  const bars = make('path', { d: d, fill: 'none', stroke: color, 'stroke-width': 2, 'clip-path': 'url(#' + clipId + ')' }, group);
  
  
  const dot = make('circle', { cx: px, cy: py, r: 11.5, fill: color, 'fill-opacity': 0.95 }, group);
  
  
}

const topLayer = document.getElementById('topMarks');
paintOrder(topPhi).forEach(function (i) {
  const lx = topLogFx[i];
  const ly = topLogFgamma[i];
  const ex = topFxErr[i];
  const ey = topFgammaErr[i];
  drawPoint(topLayer, xScale(lx), yTopScale(ly),
    xScale(lx + Math.log10(1 - ex)), xScale(lx + Math.log10(1 + ex)),
    yTopScale(ly + Math.log10(1 - ey)), yTopScale(ly + Math.log10(1 + ey)),
    topPhi[i], 'clipTop');
});

const lowLayer = document.getElementById('lowMarks');
paintOrder(lowPhi).forEach(function (i) {
  const lx = lowLogFx[i];
  const m = lowMag[i];
  const ex = lowFxErr[i];
  const em = lowMagErr[i];
  drawPoint(lowLayer, xScale(lx), yLowScale(m),
    xScale(lx + Math.log10(1 - ex)), xScale(lx + Math.log10(1 + ex)),
    yLowScale(m - em), yLowScale(m + em),
    lowPhi[i], 'clipLow');
});

// ---------- Colorbar ----------
const grad = document.getElementById('cbGrad');
colormapPhi.forEach(function (phi, i) {
  const offset = (phi - colormapPhi[0]) / (colormapPhi[colormapPhi.length - 1] - colormapPhi[0]);
  make('stop', { offset: offset, 'stop-color': colormapHex[i] }, grad);
});
const bar = document.getElementById('colorbar');
const BAR_X = 1232, BAR_W = 69;
const barRect = make('rect', { x: BAR_X, y: TOP, width: BAR_W, height: BOTTOM - TOP, fill: 'url(#cbGrad)' }, bar);


colorbarBandEdges.forEach(function (phi) {
  const band = make('line', { x1: BAR_X, x2: BAR_X + BAR_W, y1: yBarScale(phi), y2: yBarScale(phi), stroke: '#fff', 'stroke-opacity': 0.3, 'stroke-width': 1 }, bar);
  
  
});
colorbarTicks.forEach(function (phi, i) {
  const py = yBarScale(phi);
  const tick = make('path', { d: 'M' + BAR_X + ' ' + py + 'h26M' + (BAR_X + 43) + ' ' + py + 'H' + (BAR_X + BAR_W), stroke: '#000', 'stroke-width': 3.2, fill: 'none' }, bar);
  
  
  const label = make('text', { x: 1344, y: py + 17, 'font-size': 46 }, bar);
  
  
  label.textContent = colorbarTickLabels[i];
});
const barFrame = make('rect', { x: BAR_X, y: TOP, width: BAR_W, height: BOTTOM - TOP, fill: 'none', stroke: '#111', 'stroke-width': 4 }, bar);


</script>
</body>
</html>
